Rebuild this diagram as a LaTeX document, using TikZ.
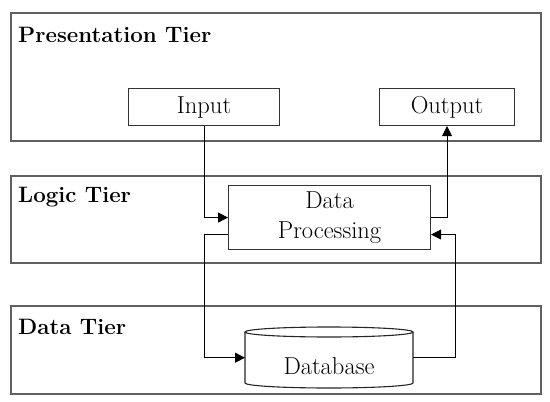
\documentclass[tikz,border=0pt]{standalone}
\usetikzlibrary{arrows.meta,calc}
\begin{document}
\begin{tikzpicture}[x=1pt,y=-1pt,
  tier/.style={draw=black!62, line width=1.8pt, inner sep=0pt, anchor=north west},
  ibox/.style={draw=black!80, line width=1.1pt, font=\fontsize{24.5}{30}\selectfont, inner sep=0pt, anchor=north west, align=center},
  tierlabel/.style={anchor=base west, font=\fontsize{22.3}{26}\selectfont\bfseries, inner sep=0pt},
  dbline/.style={draw=black!85, line width=1.1pt},
  arr/.style={line width=0.9pt, -{Triangle[length=10pt,width=10pt]}}]
\useasboundingbox (0,0) rectangle (550,402);
% tiers
\node[tier, minimum width=530pt, minimum height=128pt] (pt) at (10,12) {};
\node[tier, minimum width=530pt, minimum height=87pt] (lt) at (10,175) {};
\node[tier, minimum width=530pt, minimum height=88pt] (dt) at (10,305) {};
\node[tierlabel] (ptl) at (18,42) {Presentation Tier};
\node[tierlabel] (ltl) at (18,202) {Logic Tier};
\node[tierlabel] (dtl) at (18,334) {Data Tier};
% boxes
\node[ibox, minimum width=151pt, minimum height=37pt] (in) at (128,88) {Input};
\node[ibox, minimum width=135pt, minimum height=37pt] (out) at (379,88) {Output};
\node[ibox, minimum width=202pt, minimum height=64pt] (dp) at (228,185) {Data\\Processing};
% database cylinder
\node[inner sep=0pt, minimum width=168pt, minimum height=61pt, anchor=north west] (db) at (245,327) {};
\draw[dbline, fill=white] (245,332) -- (245,383) arc[start angle=180, end angle=0, x radius=84, y radius=5] -- (413,332);
\draw[dbline, fill=white] (329,332) ellipse[x radius=84, y radius=5];
\node[font=\fontsize{24.5}{28}\selectfont, inner sep=0pt] (dbl) at (329,366) {Database};
% connectors
\coordinate (a) at ($(dp.west)+(0,17)$);
\coordinate (b) at ($(dp.east)+(0,17)$);
\coordinate (c) at ($(db.east)+(42,0)$);
\draw[arr] (in.south) |- (dp.west);
\draw[arr] (dp.east) -| (out.south);
\draw[arr] (a) -| (in.south |- db.west) -- (db.west);
\draw[arr] (db.east) -| (c |- b) -- (b);
\end{tikzpicture}
\end{document}
